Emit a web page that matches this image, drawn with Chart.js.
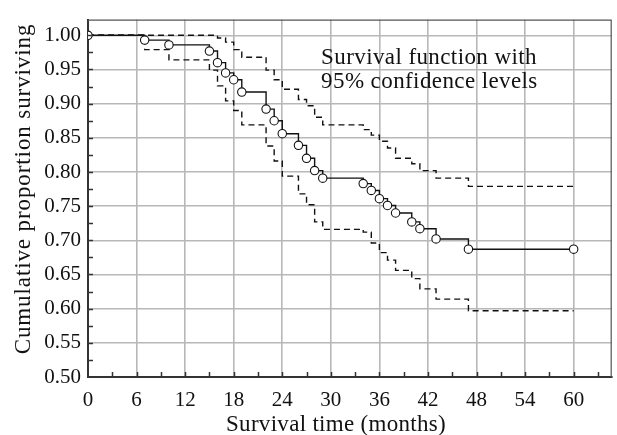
<!DOCTYPE html>
<html>
<head>
<meta charset="utf-8">
<script src="https://cdn.jsdelivr.net/npm/chart.js@4"></script>
<style>
html, body { margin: 0; padding: 0; background: #fff; }
#wrap { width: 617px; height: 435px; }
</style>
</head>
<body>
<div id="wrap"><canvas id="myChart" width="617" height="435"></canvas></div>
<script>
// event times (months) and Kaplan-Meier estimates
const months   = [0, 7, 10, 15, 16, 17, 18, 19, 22, 23, 24, 26, 27, 28, 29, 34, 35, 36, 37, 38, 40, 41, 43, 47, 60]
const survival = [1, .993, .986, .977, .960, .945, .935, .917, .892, .875, .856, .839, .820, .802, .791, .783, .773, .761, .751, .740, .727, .717, .702, .687, .687]
const upperCI  = [1, 1, 1, 1, .996, .990, .979, .968, .949, .935, .921, .906, .897, .880, .869, .862, .854, .845, .835, .820, .812, .802, .791, .779, .779]
const lowerCI  = [1, .979, .964, .949, .926, .904, .890, .869, .838, .816, .794, .768, .752, .727, .716, .712, .696, .682, .671, .656, .644, .629, .614, .597, .597]

const xTicks = [0, 6, 12, 18, 24, 30, 36, 42, 48, 54, 60]
const yTicks = [0.50, 0.55, 0.60, 0.65, 0.70, 0.75, 0.80, 0.85, 0.90, 0.95, 1.00]
const noteLines = ['Survival function with', '95% confidence levels']
const xTitle = 'Survival time (months)'
const yTitle = 'Cumulative proportion surviving'

const FONT = "'Liberation Serif', 'Times New Roman', serif"

function pts(ys) {
    return months.map((m, i) => ({x: m, y: ys[i]}))
}

// inward minor ticks, frame, axis titles and the text note
const extras = {
    id: 'extras',
    afterDraw(chart) {
        const ctx = chart.ctx
        const a = chart.chartArea
        const xs = chart.scales.x
        const ys = chart.scales.y
        ctx.save()
        ctx.strokeStyle = '#333'
        ctx.lineWidth = 1.5
        ctx.beginPath()
        for (let v = 3; v < xs.max; v += 3) {
            const px = Math.round(xs.getPixelForValue(v)) + 0.5
            ctx.moveTo(px, a.bottom)
            ctx.lineTo(px, a.bottom - 5)
        }
        for (let v = 0.525; v < ys.max; v += 0.025) {
            const py = Math.round(ys.getPixelForValue(v)) + 0.5
            ctx.moveTo(a.left, py)
            ctx.lineTo(a.left + 5, py)
        }
        ctx.stroke()
        ctx.strokeStyle = '#555'
        ctx.lineWidth = 1.2
        ctx.beginPath()
        ctx.moveTo(a.left, a.top + 0.5)
        ctx.lineTo(a.right - 0.5, a.top + 0.5)
        ctx.lineTo(a.right - 0.5, a.bottom)
        ctx.stroke()

        ctx.fillStyle = '#111'
        ctx.textBaseline = 'alphabetic'

        // note inside the plot
        ctx.font = '23px ' + FONT
        ctx.letterSpacing = '0.4px'
        ctx.textAlign = 'left'
        const tx = xs.getPixelForValue(28.8)
        ctx.fillText(noteLines[0], tx, ys.getPixelForValue(0.958))
        ctx.fillText(noteLines[1], tx, ys.getPixelForValue(0.923))

        // axis titles
        ctx.textAlign = 'center'
        ctx.letterSpacing = '0.3px'
        ctx.fillText(xTitle, 336, 431)
        ctx.translate(30, 189)
        ctx.rotate(-Math.PI / 2)
        ctx.letterSpacing = '0.9px'
        ctx.fillText(yTitle, 0, 0)
        ctx.restore()
    }
}

const myChart = new Chart(document.getElementById('myChart'), {
    type: 'line',
    data: {
        datasets: [{
            label: 'Survival',
            data: pts(survival),
            stepped: true,
            borderColor: '#111',
            borderWidth: 1.4,
            pointRadius: 4.2,
            pointBorderWidth: 1.1,
            pointBackgroundColor: '#fff',
            pointBorderColor: '#111',
            fill: false
        }, {
            label: 'Upper 95%',
            data: pts(upperCI),
            stepped: true,
            borderColor: '#111',
            borderWidth: 1.4,
            borderDash: [6, 4],
            pointRadius: 0,
            fill: false
        }, {
            label: 'Lower 95%',
            data: pts(lowerCI),
            stepped: true,
            borderColor: '#111',
            borderWidth: 1.4,
            borderDash: [6, 4],
            pointRadius: 0,
            fill: false
        }]
    },
    options: {
        responsive: false,
        animation: false,
        devicePixelRatio: 1,
        layout: { padding: { top: 12, right: 2, left: 0, bottom: 0 } },
        plugins: {
            legend: { display: false },
            tooltip: { enabled: false }
        },
        scales: {
            x: {
                type: 'linear',
                min: 0,
                max: 64.7,
                afterFit: s => { s.height = 58 },
                afterBuildTicks: s => { s.ticks = xTicks.map(v => ({value: v})) },
                ticks: {
                    color: '#111',
                    padding: 11,
                    font: { family: FONT, size: 21 },
                    maxRotation: 0
                },
                grid: { color: '#b8b8b8', lineWidth: 1.6, drawTicks: false },
                border: { display: true, color: '#333', width: 2 }
            },
            y: {
                type: 'linear',
                min: 0.5,
                max: 1.023,
                afterFit: s => { s.width = 88 },
                afterBuildTicks: s => { s.ticks = yTicks.map(v => ({value: v})) },
                ticks: {
                    color: '#111',
                    padding: 7,
                    font: { family: FONT, size: 21 },
                    callback: v => v.toFixed(2)
                },
                grid: { color: '#b8b8b8', lineWidth: 1.6, drawTicks: false },
                border: { display: true, color: '#333', width: 2 }
            }
        }
    },
    plugins: [extras]
})
</script>
</body>
</html>
